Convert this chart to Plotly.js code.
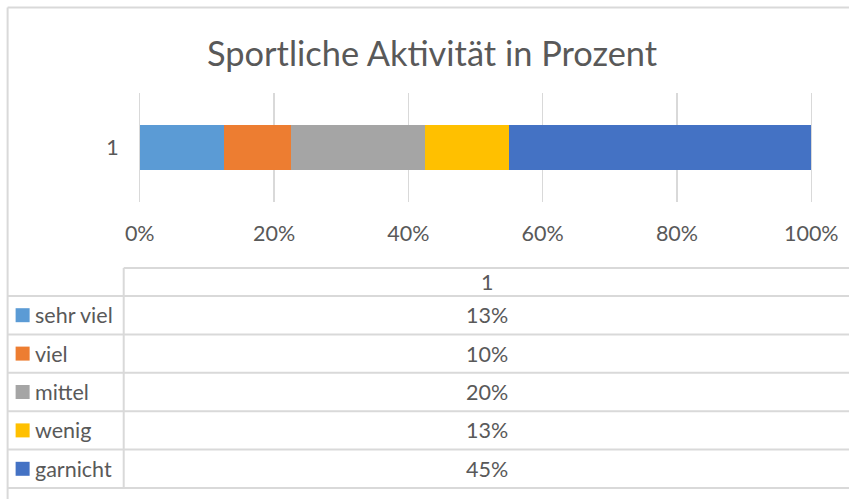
<!DOCTYPE html>
<html><head><meta charset="utf-8">
<script src="https://cdn.plot.ly/plotly-3.0.1.min.js"></script>
<style>html,body{margin:0;padding:0;background:#fff}</style>
</head><body><div id="chart" style="width:849px;height:499px"></div>
<script>
// ---- data ----
const categories = ['1'];
const seriesNames = ['sehr viel', 'viel', 'mittel', 'wenig', 'garnicht'];
const seriesValues = [[0.125], [0.10], [0.20], [0.125], [0.45]];
const seriesColors = ['#5b9bd5', '#ed7d31', '#a5a5a5', '#ffc000', '#4472c4'];
const xTickVals = [0, 0.2, 0.4, 0.6, 0.8, 1];
const xTickText = ['0%', '20%', '40%', '60%', '80%', '100%'];
const tableHeader = '1';
const titleText = 'Sportliche Aktivität in Prozent';

// ---- geometry ----
const W = 849, H = 499;
const PAD = 0.01;               // small range padding so edge gridlines are drawn
const X0 = 140, X1 = 811;       // pixel positions of 0% and 100%
const unit = X1 - X0;
const M = {l: X0 - PAD * unit, r: W - X1 - PAD * unit, t: 93, b: 297};
const PW = W - M.l - M.r, PH = H - M.t - M.b;
const fx = x => (x - M.l) / PW;
const fy = y => (H - M.b - y) / PH;
const FONT = 'Lato, "Open Sans", sans-serif';
const TXT = '#595959';
const LINE = '#d9d9d9';
const FS = 21.5;

const traces = seriesNames.map((n, i) => ({
  type: 'bar', orientation: 'h', name: n,
  y: categories, x: seriesValues[i],
  marker: {color: seriesColors[i], line: {width: 0}},
  hoverinfo: 'skip'
}));

const shapes = [];
const annotations = [];
function hline(x0, x1, y, w) {
  shapes.push({type: 'line', xref: 'paper', yref: 'paper', x0: fx(x0), x1: fx(x1), y0: fy(y), y1: fy(y), line: {color: LINE, width: w || 2}});
}
function vline(x, y0, y1, w) {
  shapes.push({type: 'line', xref: 'paper', yref: 'paper', x0: fx(x), x1: fx(x), y0: fy(y0), y1: fy(y1), line: {color: LINE, width: w || 2}});
}
// outer frame
vline(8, 7.5, 499);
hline(8, 849, 7.5);
// data table
const tblTop = 268, hdrBottom = 296, rowH = 38.4, colX = 124;
hline(colX, 849, tblTop);
hline(8, 849, hdrBottom);
vline(colX, tblTop, hdrBottom + rowH * seriesNames.length);
annotations.push({xref: 'paper', yref: 'paper', x: fx((colX + W) / 2), y: fy((tblTop + hdrBottom) / 2),
  text: tableHeader, showarrow: false, xanchor: 'center', yanchor: 'middle', font: {family: FONT, size: FS, color: TXT}});
seriesNames.forEach((n, i) => {
  const y0 = hdrBottom + rowH * i, y1 = y0 + rowH, yc = (y0 + y1) / 2;
  hline(8, 849, y1);
  shapes.push({type: 'rect', xref: 'paper', yref: 'paper', x0: fx(16), x1: fx(30), y0: fy(yc - 7), y1: fy(yc + 7),
    fillcolor: seriesColors[i], line: {width: 0}});
  annotations.push({xref: 'paper', yref: 'paper', x: fx(33), y: fy(yc), text: n, showarrow: false,
    xanchor: 'left', yanchor: 'middle', font: {family: FONT, size: FS, color: TXT}});
  annotations.push({xref: 'paper', yref: 'paper', x: fx((colX + W) / 2), y: fy(yc),
    text: Math.round(seriesValues[i][0] * 100) + '%', showarrow: false,
    xanchor: 'center', yanchor: 'middle', font: {family: FONT, size: FS, color: TXT}});
});
// title
annotations.push({xref: 'paper', yref: 'paper', x: fx(432.5), y: fy(52), text: titleText, showarrow: false,
  xanchor: 'center', yanchor: 'middle', font: {family: FONT, size: 34.4, color: TXT}});

const layout = {
  width: W, height: H, margin: M,
  paper_bgcolor: '#fff', plot_bgcolor: '#fff',
  barmode: 'stack', bargap: 0.59, showlegend: false,
  font: {family: FONT, color: TXT},
  xaxis: {range: [-PAD, 1 + PAD], tickvals: xTickVals, ticktext: xTickText, showgrid: true, gridcolor: LINE, gridwidth: 1.5,
    zeroline: false, showline: false, ticks: '', ticklabelstandoff: 16, tickfont: {family: FONT, size: FS, color: TXT}, fixedrange: true},
  yaxis: {type: 'category', showgrid: false, zeroline: false, showline: false,
    ticks: 'outside', ticklen: 9, tickcolor: 'rgba(0,0,0,0)',
    tickfont: {family: FONT, size: FS, color: TXT}, fixedrange: true},
  shapes: shapes, annotations: annotations
};
Plotly.newPlot('chart', traces, layout, {staticPlot: true, displayModeBar: false});
</script></body></html>
